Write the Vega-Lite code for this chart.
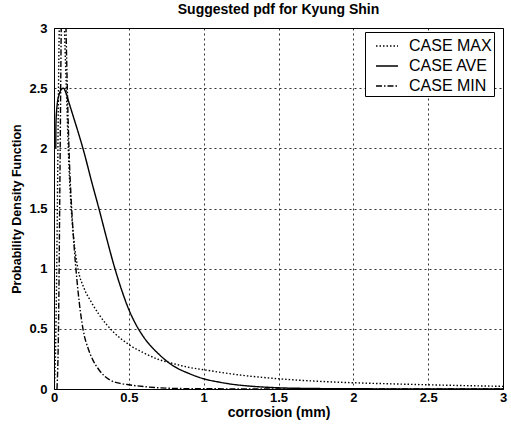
{
  "$schema": "https://vega.github.io/schema/vega-lite/v6.json",
  "width": 449,
  "height": 361,
  "autosize": {"type": "none"},
  "padding": {"left": 54, "top": 28, "right": 8, "bottom": 35},
  "background": "white",
  "title": {"text": "Suggested pdf for Kyung Shin", "font": "Liberation Sans", "fontSize": 14, "fontWeight": "bold", "color": "black", "offset": 5},
  "config": {
    "view": {"stroke": "black", "strokeWidth": 1},
    "axis": {
      "labelFont": "Liberation Sans", "labelFontSize": 13, "labelFontWeight": "bold", "labelColor": "black",
      "titleFont": "Liberation Sans", "titleFontSize": 14, "titleFontWeight": "bold", "titleColor": "black",
      "domainColor": "black", "ticks": false, "tickSize": 0,
      "gridColor": "black", "gridDash": [2, 3], "gridOpacity": 0.8, "gridWidth": 1
    },
    "legend": {
      "labelFont": "Liberation Sans", "labelFontSize": 16, "labelColor": "black"
    }
  },
  "data": {"values": [
    {"x":0.012,"y":2.0,"s":"CASE AVE"},{"x":0.013,"y":2.2,"s":"CASE AVE"},{"x":0.02,"y":2.35,"s":"CASE AVE"},{"x":0.035,"y":2.45,"s":"CASE AVE"},{"x":0.05,"y":2.49,"s":"CASE AVE"},{"x":0.063,"y":2.5,"s":"CASE AVE"},{"x":0.08,"y":2.46,"s":"CASE AVE"},{"x":0.1,"y":2.38,"s":"CASE AVE"},{"x":0.13,"y":2.26,"s":"CASE AVE"},{"x":0.16,"y":2.14,"s":"CASE AVE"},{"x":0.2,"y":1.97,"s":"CASE AVE"},{"x":0.25,"y":1.73,"s":"CASE AVE"},{"x":0.3,"y":1.5,"s":"CASE AVE"},{"x":0.35,"y":1.26,"s":"CASE AVE"},{"x":0.4,"y":1.03,"s":"CASE AVE"},{"x":0.45,"y":0.83,"s":"CASE AVE"},{"x":0.5,"y":0.66,"s":"CASE AVE"},{"x":0.55,"y":0.53,"s":"CASE AVE"},{"x":0.6,"y":0.43,"s":"CASE AVE"},{"x":0.7,"y":0.29,"s":"CASE AVE"},{"x":0.8,"y":0.19,"s":"CASE AVE"},{"x":0.9,"y":0.13,"s":"CASE AVE"},{"x":1.0,"y":0.085,"s":"CASE AVE"},{"x":1.1,"y":0.058,"s":"CASE AVE"},{"x":1.2,"y":0.038,"s":"CASE AVE"},{"x":1.3,"y":0.025,"s":"CASE AVE"},{"x":1.4,"y":0.016,"s":"CASE AVE"},{"x":1.5,"y":0.01,"s":"CASE AVE"},{"x":1.75,"y":0.004,"s":"CASE AVE"},{"x":2.0,"y":0.002,"s":"CASE AVE"},{"x":2.5,"y":0.0005,"s":"CASE AVE"},{"x":3.0,"y":0.0001,"s":"CASE AVE"},

    {"x":0.0,"y":0.0,"s":"CASE MAX"},{"x":0.01,"y":0.3,"s":"CASE MAX"},{"x":0.02,"y":1.2,"s":"CASE MAX"},{"x":0.03,"y":2.5,"s":"CASE MAX"},{"x":0.04,"y":3.4,"s":"CASE MAX"},{"x":0.05,"y":3.8,"s":"CASE MAX"},{"x":0.06,"y":3.5,"s":"CASE MAX"},{"x":0.07,"y":3.0,"s":"CASE MAX"},{"x":0.085,"y":2.4,"s":"CASE MAX"},{"x":0.1,"y":1.85,"s":"CASE MAX"},{"x":0.115,"y":1.5,"s":"CASE MAX"},{"x":0.13,"y":1.27,"s":"CASE MAX"},{"x":0.16,"y":1.0,"s":"CASE MAX"},{"x":0.2,"y":0.84,"s":"CASE MAX"},{"x":0.25,"y":0.72,"s":"CASE MAX"},{"x":0.3,"y":0.62,"s":"CASE MAX"},{"x":0.4,"y":0.47,"s":"CASE MAX"},{"x":0.5,"y":0.37,"s":"CASE MAX"},{"x":0.6,"y":0.3,"s":"CASE MAX"},{"x":0.7,"y":0.245,"s":"CASE MAX"},{"x":0.8,"y":0.21,"s":"CASE MAX"},{"x":0.9,"y":0.18,"s":"CASE MAX"},{"x":1.0,"y":0.16,"s":"CASE MAX"},{"x":1.25,"y":0.115,"s":"CASE MAX"},{"x":1.5,"y":0.085,"s":"CASE MAX"},{"x":1.75,"y":0.065,"s":"CASE MAX"},{"x":2.0,"y":0.052,"s":"CASE MAX"},{"x":2.25,"y":0.043,"s":"CASE MAX"},{"x":2.5,"y":0.035,"s":"CASE MAX"},{"x":2.75,"y":0.028,"s":"CASE MAX"},{"x":3.0,"y":0.022,"s":"CASE MAX"},

    {"x":0.02,"y":0.0,"s":"CASE MIN"},{"x":0.03,"y":0.5,"s":"CASE MIN"},{"x":0.04,"y":1.8,"s":"CASE MIN"},{"x":0.05,"y":3.2,"s":"CASE MIN"},{"x":0.06,"y":3.8,"s":"CASE MIN"},{"x":0.07,"y":3.6,"s":"CASE MIN"},{"x":0.08,"y":3.0,"s":"CASE MIN"},{"x":0.09,"y":2.45,"s":"CASE MIN"},{"x":0.1,"y":2.0,"s":"CASE MIN"},{"x":0.118,"y":1.5,"s":"CASE MIN"},{"x":0.128,"y":1.3,"s":"CASE MIN"},{"x":0.16,"y":0.82,"s":"CASE MIN"},{"x":0.195,"y":0.49,"s":"CASE MIN"},{"x":0.23,"y":0.33,"s":"CASE MIN"},{"x":0.26,"y":0.24,"s":"CASE MIN"},{"x":0.3,"y":0.16,"s":"CASE MIN"},{"x":0.373,"y":0.075,"s":"CASE MIN"},{"x":0.45,"y":0.045,"s":"CASE MIN"},{"x":0.5,"y":0.035,"s":"CASE MIN"},{"x":0.6,"y":0.02,"s":"CASE MIN"},{"x":0.7,"y":0.01,"s":"CASE MIN"},{"x":0.8,"y":0.005,"s":"CASE MIN"},{"x":1.0,"y":0.002,"s":"CASE MIN"},{"x":1.5,"y":0.0005,"s":"CASE MIN"},{"x":2.0,"y":0.0001,"s":"CASE MIN"},{"x":3.0,"y":0.0,"s":"CASE MIN"}
  ]},
  "mark": {"type": "line", "clip": true, "color": "black", "strokeWidth": 1.4, "interpolate": "monotone"},
  "encoding": {
    "x": {"field": "x", "type": "quantitative", "title": "corrosion (mm)",
          "scale": {"domain": [0, 3], "nice": false},
          "axis": {"values": [0, 0.5, 1, 1.5, 2, 2.5, 3], "format": "~g", "labelPadding": 2, "titlePadding": 1, "labelFlush": false}},
    "y": {"field": "y", "type": "quantitative", "title": "Probability Density Function",
          "scale": {"domain": [0, 3], "nice": false},
          "axis": {"values": [0, 0.5, 1, 1.5, 2, 2.5, 3], "format": "~g", "labelPadding": 7, "titlePadding": 5, "titleFontSize": 12.5, "labelFlush": false}},
    "strokeDash": {"field": "s", "type": "nominal",
      "scale": {"domain": ["CASE MAX", "CASE AVE", "CASE MIN"], "range": [[1.5, 2], [1, 0], [6, 2, 1.5, 2]]},
      "legend": {"title": null, "orient": "none", "legendX": 311, "legendY": 4,
                 "symbolType": "stroke", "symbolSize": 484, "symbolStrokeColor": "black", "symbolStrokeWidth": 1.4,
                 "symbolOffset": 8,
                 "strokeColor": "black", "fillColor": "white", "padding": 2, "rowPadding": -11, "labelOffset": 10}}
  }
}
